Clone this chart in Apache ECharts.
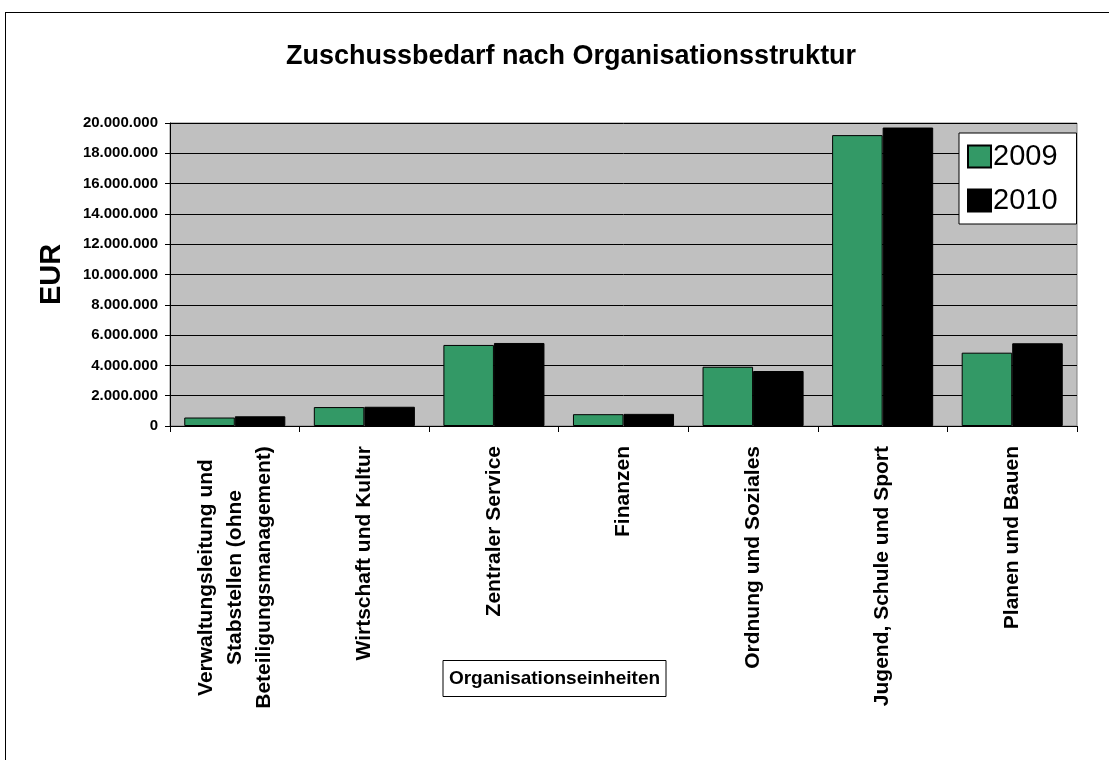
<!DOCTYPE html>
<html>
<head>
<meta charset="utf-8">
<script src="https://cdn.jsdelivr.net/npm/echarts@6/dist/echarts.min.js"></script>
<style>
  html, body { margin: 0; padding: 0; background: #fff; }
  #chart { width: 1109px; height: 760px; }
</style>
</head>
<body>
<div id="chart"></div>
<script>
var categories = [
  'Verwaltungsleitung und\nStabstellen (ohne\nBeteiligungsmanagement)',
  'Wirtschaft und Kultur',
  'Zentraler Service',
  'Finanzen',
  'Ordnung und Soziales',
  'Jugend, Schule und Sport',
  'Planen und Bauen'
];
var values2009 = [560000, 1250000, 5350000, 780000, 3910000, 19200000, 4840000];
var values2010 = [640000, 1270000, 5480000, 800000, 3630000, 19700000, 5460000];

var myChart = echarts.init(document.getElementById('chart'), null, { renderer: 'canvas' });

function fmt(v) {
  return String(v).replace(/\B(?=(\d{3})+(?!\d))/g, '.');
}

// multi-line labels are centered line by line, like the original
function catLabel(value) {
  if (value.indexOf('\n') < 0) return value;
  return value.split('\n').map(function (l) { return '{c|' + l + '}'; }).join('\n');
}

var option = {
  backgroundColor: '#fff',
  animation: false,
  textStyle: { fontFamily: 'Liberation Sans, Arial, sans-serif' },
  title: [
    {
      text: 'Zuschussbedarf nach Organisationsstruktur',
      left: 281,
      top: 38,
      textStyle: { fontSize: 27, fontWeight: 'bold', color: '#000' }
    },
    {
      text: 'Organisationseinheiten',
      left: 'center',
      top: 660,
      padding: [9, 6, 9, 6],
      borderColor: '#000',
      borderWidth: 1,
      textStyle: { fontSize: 19, fontWeight: 'bold', color: '#000' }
    }
  ],
  legend: {
    orient: 'vertical',
    left: 959,
    top: 133,
    padding: [9, 19, 9, 8],
    itemGap: 15,
    itemWidth: 23,
    itemHeight: 22,
    backgroundColor: '#fff',
    borderColor: '#000',
    borderWidth: 1,
    borderRadius: 0,
    icon: 'rect',
    textStyle: { fontSize: 29, color: '#000', padding: [0, 0, 0, -3] },
    data: ['2009', '2010']
  },
  grid: {
    left: 170,
    right: 32,
    top: 123,
    bottom: 334,
    show: true,
    backgroundColor: '#C0C0C0',
    borderColor: '#808080',
    borderWidth: 1
  },
  xAxis: {
    type: 'category',
    data: categories,
    axisLine: { lineStyle: { color: '#000', width: 1 } },
    axisTick: { show: true, length: 6, lineStyle: { color: '#000' } },
    axisLabel: {
      rotate: 90,
      interval: 0,
      margin: 20,
      fontSize: 21,
      fontWeight: 'bold',
      color: '#000',
      lineHeight: 29,
      formatter: catLabel,
      rich: {
        c: {
          width: 263,
          align: 'center',
          fontSize: 21,
          fontWeight: 'bold',
          color: '#000',
          lineHeight: 29
        }
      }
    }
  },
  yAxis: {
    type: 'value',
    name: 'EUR',
    nameLocation: 'middle',
    nameGap: 104,
    nameRotate: 90,
    nameTextStyle: { fontSize: 29, fontWeight: 'bold', color: '#000' },
    min: 0,
    max: 20000000,
    interval: 2000000,
    axisLine: { show: true, lineStyle: { color: '#000' } },
    axisTick: { show: true, length: 5, lineStyle: { color: '#000' } },
    axisLabel: {
      fontSize: 15,
      fontWeight: 'bold',
      color: '#000',
      margin: 12,
      formatter: fmt
    },
    splitLine: { show: true, lineStyle: { color: '#000', width: 1 } }
  },
  series: [
    {
      name: '2009',
      type: 'bar',
      data: values2009,
      barGap: '0%',
      barCategoryGap: '22%',
      itemStyle: { color: '#339966', borderColor: '#000', borderWidth: 1 }
    },
    {
      name: '2010',
      type: 'bar',
      data: values2010,
      barGap: '0%',
      barCategoryGap: '22%',
      itemStyle: { color: '#000', borderColor: '#000', borderWidth: 1 }
    }
  ],
  graphic: [
    { type: 'line', shape: { x1: 5, y1: 12.5, x2: 1109, y2: 12.5 }, style: { stroke: '#000', lineWidth: 1 } },
    { type: 'line', shape: { x1: 5.5, y1: 12, x2: 5.5, y2: 760 }, style: { stroke: '#000', lineWidth: 1 } }
  ]
};

myChart.setOption(option);
</script>
</body>
</html>
